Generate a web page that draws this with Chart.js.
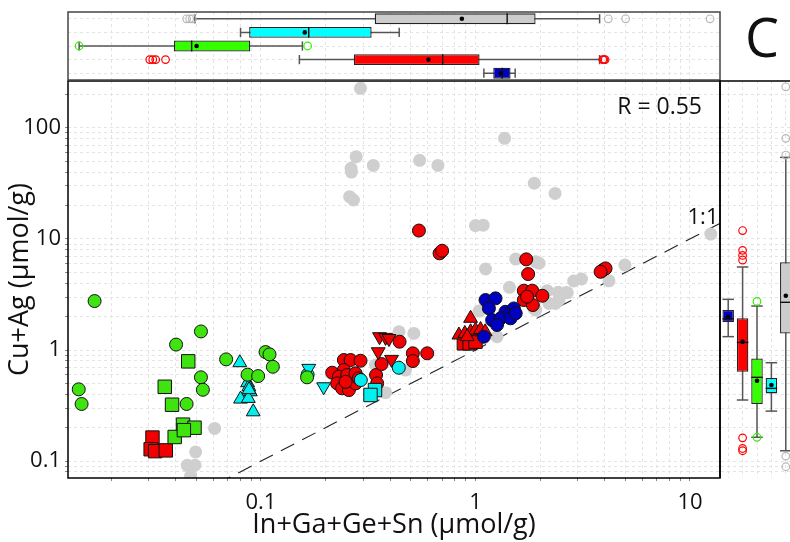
<!DOCTYPE html>
<html>
<head>
<meta charset="utf-8">
<script src="https://cdn.jsdelivr.net/npm/chart.js@4.4.1/dist/chart.umd.min.js"></script>
<style>
  html, body { margin: 0; padding: 0; background: #fff; overflow: hidden; }
  #wrap { position: relative; width: 790px; height: 542px; overflow: hidden; }
  #wrap canvas { position: absolute; left: 0; top: 0; }
</style>
</head>
<body>
<div id="wrap">
  <canvas id="main" width="790" height="542"></canvas>
  <canvas id="top" width="790" height="542"></canvas>
  <canvas id="side" width="800" height="542"></canvas>
</div>
<script>
// axis ranges and labelled ticks
const xMin = 0.0126, xMax = 13.8;
const yMin = 0.0705, yMax = 264;
const xLabelled = [0.1, 1, 10];
const yLabelled = [0.1, 1, 10, 100];
const decades = [0.01, 0.1, 1, 10, 100];
const minorSteps = [1, 2, 3, 4, 5, 6, 7, 8, 9];

// scatter points [In+Ga+Ge+Sn, Cu+Ag]
const grayPts = [[0.291, 227], [0.278, 55.0], [0.263, 43.2], [0.264, 40], [0.334, 45.9], [0.549, 51.0], [0.668, 45.9],
  [0.259, 24.0], [0.27, 22.4], [1.367, 80.5], [1.88, 31.7], [2.35, 25.7], [1.0, 13.2], [1.086, 13.3], [12.5, 11.07],
  [1.54, 6.59], [1.91, 6.24], [1.98, 6.04], [1.114, 5.36], [1.44, 3.67], [4.97, 5.82], [4.19, 4.2], [2.87, 4.18],
  [3.12, 4.36], [2.43, 3.31], [2.63, 3.28], [2.68, 3.28], [2.16, 3.42], [2.2, 2.63], [2.36, 2.63], [2.45, 2.82],
  [1.87, 2.37], [1.91, 2.29], [1.04, 2.24], [1.26, 1.318], [0.44, 1.46], [0.516, 1.41], [0.381, 0.413], [0.342, 0.733],
  [0.472, 0.66], [0.0608, 0.197], [0.0496, 0.121], [0.0453, 0.0917], [0.0492, 0.0919], [0.047, 0.0734]];
const greenCircles = [[0.01676, 2.76], [0.01414, 0.443], [0.01458, 0.327], [0.0402, 1.12], [0.0525, 1.47], [0.0525, 0.568],
  [0.0536, 0.439], [0.045, 0.327], [0.0688, 0.824], [0.0866, 0.600], [0.097, 0.583], [0.105, 0.959], [0.1096, 0.914],
  [0.1136, 0.707], [0.164, 0.568]];
const greenSquares = [[0.0458, 0.791], [0.0356, 0.467], [0.0385, 0.322], [0.0433, 0.213], [0.049, 0.2], [0.0396, 0.165], [0.0437, 0.19]];
const cyanUp = [[0.0797, 0.769], [0.0866, 0.508], [0.0878, 0.467], [0.0892, 0.421], [0.0803, 0.362], [0.0873, 0.367], [0.092, 0.278], [0.088, 0.44]];
const cyanDown = [[0.167, 0.684], [0.196, 0.467]];
const cyanCircles = [[0.292, 0.537], [0.439, 0.693], [0.165, 0.6]];
const cyanSquares = [[0.340, 0.436], [0.324, 0.394]];
const redCircles = [[0.2148, 0.625], [0.2435, 0.813], [0.2617, 0.813], [0.2912, 0.801], [0.2435, 0.661], [0.2307, 0.575],
  [0.2523, 0.596], [0.276, 0.617], [0.2265, 0.501], [0.239, 0.452], [0.257, 0.436], [0.276, 0.501], [0.286, 0.556],
  [0.248, 0.518], [0.344, 0.596], [0.348, 0.501], [0.365, 0.748], [0.4427, 1.188], [0.5105, 0.934], [0.5105, 0.796],
  [0.5955, 0.934], [0.545, 11.9], [0.680, 7.42], [0.699, 7.83], [1.724, 6.55], [1.76, 4.83], [1.68, 3.42], [1.84, 3.42],
  [2.05, 3.08], [1.68, 2.82], [1.85, 2.54], [1.74, 3.02], [3.93, 5.25], [4.04, 5.43], [3.83, 5.06]];
const redSquares = [[0.0312, 0.163], [0.0306, 0.128], [0.0321, 0.123], [0.036, 0.125], [0.883, 1.149], [0.939, 1.149], [1.0, 1.19]];
const redUp = [[0.949, 1.93], [0.837, 1.365], [0.892, 1.41], [0.949, 1.46], [1.0, 1.51], [1.056, 1.53], [1.11, 1.46], [0.915, 1.32]];
const redDown = [[0.357, 1.318], [0.381, 1.30], [0.395, 1.27], [0.352, 0.965], [0.406, 0.824]];
const blueCircles = [[1.114, 2.82], [1.24, 2.92], [1.155, 2.37], [1.38, 2.21], [1.51, 2.37], [1.43, 2.07], [1.196, 1.86],
  [1.31, 1.93], [1.457, 1.93], [1.26, 1.68], [1.094, 1.318], [1.54, 2.14]];
const oneToOne = [[0.01, 0.01], [20, 20]];

// top box plots (In+Ga+Ge+Sn)
const topGroups = ['gray', 'cyan', 'green', 'red', 'blue'];
const xLow  = [0.0492, 0.0803, 0.0142, 0.151, 1.094];
const xQ1   = [0.339, 0.0881, 0.0393, 0.271, 1.21];
const xMed  = [1.405, 0.167, 0.0475, 0.703, 1.332];
const xQ3   = [1.906, 0.328, 0.0891, 1.045, 1.457];
const xHigh = [3.79, 0.441, 0.156, 3.79, 1.531];
const xMean = [0.864, 0.160, 0.0501, 0.604, 1.313];
const xOut  = [[0.045, 0.0465, 0.0478, 4.16, 5.01, 12.4], [], [0.0142, 0.165], [0.0303, 0.0313, 0.0323, 0.0359, 3.92, 3.97, 4.02], []];

// side box plots (Cu+Ag)
const sideGroups = ['blue', 'red', 'green', 'cyan', 'gray'];
const yLow  = [1.32, 0.355, 0.164, 0.282, 0.124];
const yQ1   = [1.79, 0.638, 0.327, 0.407, 1.41];
const yMed  = [1.91, 1.17, 0.568, 0.452, 2.69];
const yQ3   = [2.29, 1.93, 0.841, 0.560, 6.16];
const yHigh = [2.86, 5.59, 2.49, 0.769, 54.2];
const yMean = [1.995, 1.19, 0.529, 0.484, 3.08];
const yOut  = [[], [11.9, 7.89, 7.11, 6.46, 0.162, 0.130, 0.124], [2.74, 0.164], [], [234, 80.4, 56.9, 0.111, 0.089]];

const boxFill = { gray: '#cccccc', cyan: '#00ffff', green: '#33ff00', red: '#ff0000', blue: '#0000cc' };
const outColor = { gray: '#b8b8b8', cyan: '#00e0e0', green: '#33ee00', red: '#ff0000', blue: '#0000cc' };

Chart.defaults.font.family = "'Open Sans', sans-serif";
Chart.defaults.color = '#111';

function logTicks(scale) {
  const out = [];
  decades.forEach(d => minorSteps.forEach(m => {
    const v = Number((m * d).toPrecision(2));
    if (v >= scale.min && v <= scale.max) out.push({ value: v });
  }));
  scale.ticks = out;
}

const gridLine = { color: '#e4e4e4', tickColor: '#888', tickLength: 3, tickBorderDash: [] };
const dashed = { display: false, dash: [3, 3] };

function pts(list) {
  return list.map(p => ({ x: p[0], y: p[1] }));
}

function marks(list, color, shape, radius, extra) {
  return Object.assign({
    data: pts(list),
    backgroundColor: color,
    borderColor: '#111',
    borderWidth: 1,
    pointStyle: shape,
    pointRadius: radius
  }, extra || {});
}

const frame = {
  id: 'frame',
  afterDraw(chart, args, opts) {
    const { ctx, chartArea: a } = chart;
    ctx.save();
    ctx.strokeStyle = opts.color;
    ctx.lineWidth = 1.5;
    ctx.beginPath();
    if (opts.sides === 'lt') {
      ctx.moveTo(a.left - 1, a.bottom);
      ctx.lineTo(a.left - 1, a.top);
      ctx.lineTo(chart.width, a.top);
    } else {
      ctx.rect(a.left, a.top, a.right - a.left, a.bottom - a.top);
    }
    ctx.stroke();
    ctx.restore();
  }
};

const notes = {
  id: 'notes',
  afterDraw(chart) {
    const { ctx, chartArea: a } = chart;
    ctx.save();
    ctx.fillStyle = '#111';
    ctx.textBaseline = 'middle';
    ctx.textAlign = 'right';
    ctx.font = "23px 'Open Sans'";
    ctx.fillText('R = 0.55', a.right - 18, a.top + 26);
    ctx.textAlign = 'center';
    ctx.font = "22px 'Open Sans'";
    ctx.fillText('1:1', a.right - 17, chart.scales.y.getPixelForValue(15.4));
    ctx.font = "54px 'Open Sans'";
    ctx.fillText('C', 762, 42);
    ctx.restore();
  }
};

function boxParts(groups, low, med, high, mean, outs, horizontal) {
  function seg(ctx, c, a, b) {
    ctx.beginPath();
    if (horizontal) { ctx.moveTo(a, c); ctx.lineTo(b, c); }
    else { ctx.moveTo(c, a); ctx.lineTo(c, b); }
    ctx.stroke();
  }
  function geom(chart, i) {
    const vs = horizontal ? chart.scales.x : chart.scales.y;
    const cs = horizontal ? chart.scales.y : chart.scales.x;
    const bar = chart.getDatasetMeta(0).data[i];
    const size = horizontal ? bar.height : bar.width;
    return { vs, c: cs.getPixelForValue(i), half: size / 2 };
  }
  return {
    id: 'boxParts',
    beforeDatasetsDraw(chart) {
      const ctx = chart.ctx;
      ctx.save();
      ctx.strokeStyle = '#555';
      ctx.lineWidth = 1.5;
      groups.forEach((g, i) => {
        const { vs, c, half } = geom(chart, i);
        const a = vs.getPixelForValue(low[i]);
        const b = vs.getPixelForValue(high[i]);
        seg(ctx, c, a, b);
        [a, b].forEach(p => {
          ctx.beginPath();
          if (horizontal) { ctx.moveTo(p, c - half * 0.85); ctx.lineTo(p, c + half * 0.85); }
          else { ctx.moveTo(c - half, p); ctx.lineTo(c + half, p); }
          ctx.stroke();
        });
      });
      ctx.restore();
    },
    afterDatasetsDraw(chart) {
      const ctx = chart.ctx;
      ctx.save();
      groups.forEach((g, i) => {
        const { vs, c, half } = geom(chart, i);
        const m = vs.getPixelForValue(med[i]);
        ctx.strokeStyle = '#111';
        ctx.lineWidth = 1.4;
        ctx.beginPath();
        if (horizontal) { ctx.moveTo(m, c - half); ctx.lineTo(m, c + half); }
        else { ctx.moveTo(c - half, m); ctx.lineTo(c + half, m); }
        ctx.stroke();
        const mp = vs.getPixelForValue(mean[i]);
        ctx.fillStyle = '#000';
        ctx.beginPath();
        if (horizontal) ctx.arc(mp, c, 2.3, 0, Math.PI * 2);
        else ctx.arc(c, mp, 2.3, 0, Math.PI * 2);
        ctx.fill();
        ctx.strokeStyle = outColor[g];
        ctx.lineWidth = 1.2;
        outs[i].forEach(v => {
          const p = vs.getPixelForValue(v);
          ctx.beginPath();
          if (horizontal) ctx.arc(p, c, 3.8, 0, Math.PI * 2);
          else ctx.arc(c, p, 3.8, 0, Math.PI * 2);
          ctx.stroke();
        });
      });
      ctx.restore();
    }
  };
}

// main scatter
new Chart(document.getElementById('main'), {
  type: 'scatter',
  data: {
    datasets: [
      marks(greenCircles, '#3fe30f', 'circle', 6.5),
      marks(greenSquares, '#3fe30f', 'rect', 9.5),
      marks(cyanUp, '#00f0f0', 'triangle', 8),
      marks(cyanDown, '#00f0f0', 'triangle', 8, { rotation: 180 }),
      marks(cyanCircles, '#00f0f0', 'circle', 6.5),
      marks(cyanSquares, '#00f0f0', 'rect', 9.5),
      marks(blueCircles, '#0000c0', 'circle', 6.5),
      marks(redUp, '#f00000', 'triangle', 8),
      marks(redDown, '#f00000', 'triangle', 8, { rotation: 180 }),
      marks(redSquares, '#f00000', 'rect', 9.5),
      marks(redCircles, '#f00000', 'circle', 6.5),
      marks(grayPts, '#cfcfcf', 'circle', 6.5, { borderWidth: 0 }),
      {
        data: pts(oneToOne),
        showLine: true,
        pointRadius: 0,
        borderColor: '#222',
        borderWidth: 1.1,
        borderDash: [15, 9]
      }
    ]
  },
  options: {
    responsive: false,
    animation: false,
    events: [],
    layout: { padding: { top: 81, right: 70, left: 0, bottom: 0 } },
    plugins: { legend: { display: false }, tooltip: { enabled: false }, frame: { color: '#000' } },
    scales: {
      x: {
        type: 'logarithmic', min: xMin, max: xMax,
        afterBuildTicks: logTicks,
        afterFit: s => { s.height = 64; },
        ticks: { autoSkip: false, maxRotation: 0, padding: 9, font: { size: 22 }, color: '#111',
          callback: v => xLabelled.includes(v) ? String(v) : '' },
        grid: gridLine,
        border: dashed,
        title: { display: true, text: 'In+Ga+Ge+Sn (µmol/g)', font: { size: 27 }, color: '#111', padding: { top: 0, bottom: 0 } }
      },
      y: {
        type: 'logarithmic', min: yMin, max: yMax,
        afterBuildTicks: logTicks,
        afterFit: s => { s.width = 68; },
        ticks: { autoSkip: false, padding: 4, font: { size: 22 }, color: '#111',
          callback: v => yLabelled.includes(v) ? String(v) : '' },
        grid: gridLine,
        border: dashed,
        title: { display: true, text: 'Cu+Ag (µmol/g)', font: { size: 27 }, color: '#111', padding: { top: 4, bottom: 0 } }
      }
    }
  },
  plugins: [frame, notes]
});

// top marginal box plots
new Chart(document.getElementById('top'), {
  type: 'bar',
  data: {
    labels: topGroups,
    datasets: [{
      data: topGroups.map((g, i) => [xQ1[i], xQ3[i]]),
      backgroundColor: topGroups.map(g => boxFill[g]),
      borderColor: '#222',
      borderWidth: 1.3,
      borderSkipped: false,
      barPercentage: 0.8,
      categoryPercentage: 1
    }]
  },
  options: {
    indexAxis: 'y',
    responsive: false,
    animation: false,
    events: [],
    layout: { padding: { left: 68, right: 70, top: 12, bottom: 462 } },
    plugins: { legend: { display: false }, tooltip: { enabled: false }, frame: { color: '#444' } },
    scales: {
      x: {
        type: 'logarithmic', min: xMin, max: xMax,
        afterBuildTicks: logTicks,
        afterFit: s => { s.height = 0; },
        ticks: { display: false, autoSkip: false },
        grid: { color: '#e4e4e4', drawTicks: false },
        border: dashed
      },
      y: {
        afterFit: s => { s.width = 0; },
        ticks: { display: false },
        grid: { color: '#e4e4e4', drawTicks: false, offset: false },
        border: dashed
      }
    }
  },
  plugins: [boxParts(topGroups, xLow, xMed, xHigh, xMean, xOut, true), frame]
});

// right marginal box plots
new Chart(document.getElementById('side'), {
  type: 'bar',
  data: {
    labels: sideGroups,
    datasets: [{
      data: sideGroups.map((g, i) => [yQ1[i], yQ3[i]]),
      backgroundColor: sideGroups.map(g => boxFill[g]),
      borderColor: '#222',
      borderWidth: 1.3,
      borderSkipped: false,
      barPercentage: 0.8,
      categoryPercentage: 1
    }]
  },
  options: {
    responsive: false,
    animation: false,
    events: [],
    layout: { padding: { left: 721, right: 7, top: 81, bottom: 64 } },
    plugins: { legend: { display: false }, tooltip: { enabled: false }, frame: { color: '#000', sides: 'lt' } },
    scales: {
      x: {
        afterFit: s => { s.height = 0; },
        ticks: { display: false },
        grid: { color: '#e4e4e4', drawTicks: false, offset: false },
        border: dashed
      },
      y: {
        type: 'logarithmic', min: yMin, max: yMax,
        afterBuildTicks: logTicks,
        afterFit: s => { s.width = 0; },
        ticks: { display: false, autoSkip: false },
        grid: { color: '#e4e4e4', drawTicks: false },
        border: dashed
      }
    }
  },
  plugins: [boxParts(sideGroups, yLow, yMed, yHigh, yMean, yOut, false), frame]
});
</script>
</body>
</html>
